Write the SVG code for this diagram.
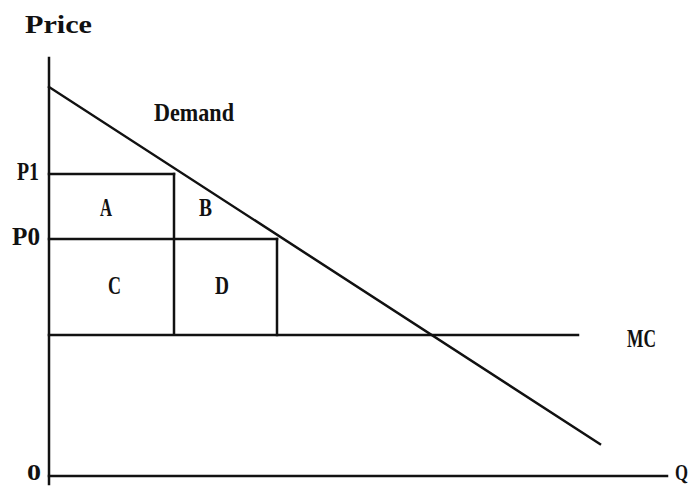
<svg xmlns="http://www.w3.org/2000/svg" width="695" height="487" viewBox="0 0 695 487">
<style>
.ln{stroke:#111;stroke-width:2.5;fill:none;stroke-linecap:square}
.t{font-family:"Liberation Serif",serif;font-weight:bold;font-size:26px;fill:#111}
.s{font-size:23px}
</style>
<rect width="695" height="487" fill="#fff"/>
<g id="connectors">
<line class="ln" x1="49" y1="58" x2="49" y2="484"/>
<line class="ln" x1="49" y1="476" x2="667" y2="476"/>
<line class="ln" x1="49" y1="87" x2="600" y2="444"/>
<line class="ln" x1="49" y1="174" x2="174" y2="174"/>
<line class="ln" x1="174" y1="174" x2="174" y2="334"/>
<line class="ln" x1="49" y1="239" x2="277" y2="239"/>
<line class="ln" x1="277" y1="239" x2="277" y2="335"/>
<line class="ln" x1="49" y1="335" x2="578" y2="335"/>
</g>
<g id="labels">
<text class="t" x="25" y="33" textLength="67" lengthAdjust="spacingAndGlyphs">Price</text>
<text class="t" x="154" y="121" textLength="80" lengthAdjust="spacingAndGlyphs">Demand</text>
<text class="t" x="17" y="180" textLength="22" lengthAdjust="spacingAndGlyphs">P1</text>
<text class="t" x="12" y="245" textLength="28" lengthAdjust="spacingAndGlyphs">P0</text>
<text class="t" x="100" y="216" textLength="12" lengthAdjust="spacingAndGlyphs">A</text>
<text class="t" x="199" y="216" textLength="13" lengthAdjust="spacingAndGlyphs">B</text>
<text class="t" x="108" y="294" textLength="13" lengthAdjust="spacingAndGlyphs">C</text>
<text class="t" x="215" y="294" textLength="14" lengthAdjust="spacingAndGlyphs">D</text>
<text class="t" x="627" y="347" textLength="29" lengthAdjust="spacingAndGlyphs">MC</text>
<text class="t s" x="27" y="480" textLength="14" lengthAdjust="spacingAndGlyphs">0</text>
<text class="t s" x="675" y="480" textLength="13" lengthAdjust="spacingAndGlyphs">Q</text>
</g>
</svg>
